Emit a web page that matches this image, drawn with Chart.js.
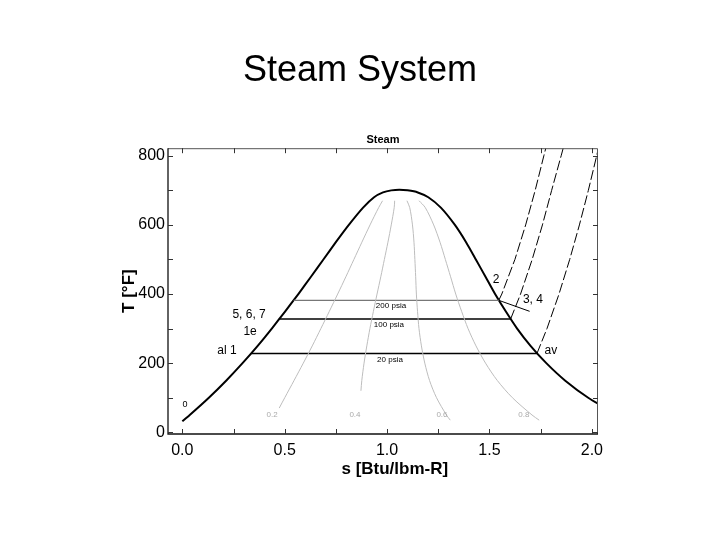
<!DOCTYPE html>
<html>
<head>
<meta charset="utf-8">
<title>Steam System</title>
<script src="https://cdn.jsdelivr.net/npm/chart.js"></script>
<style>
  html, body { margin: 0; padding: 0; background: #fff; }
  #wrap { position: relative; width: 720px; height: 540px; }
  #c { position: absolute; left: 0; top: 0; }
  #slideTitle {
    position: absolute; left: 0; top: 51px; width: 720px;
    text-align: center; color: #000;
    font: 36px/36px "Liberation Sans", Arial, sans-serif;
  }
</style>
</head>
<body>
<div id="wrap">
  <canvas id="c" width="720" height="540"></canvas>
  <div id="slideTitle">Steam System</div>
</div>
<script>
// saturation dome (liquid side up to the critical point, then vapour side down)
const domeS = [0.0000, 0.0361, 0.1295, 0.2150, 0.2940, 0.3680, 0.4369, 0.5025, 0.5665, 0.6282, 0.6889, 0.7497,
  0.8131, 0.8828, 0.9364, 0.9800, 1.0200, 1.0600, 1.1000, 1.1500, 1.2012, 1.2625, 1.3311, 1.3857, 1.4335,
  1.4806, 1.5274, 1.5793, 1.6351, 1.7006, 1.7775, 1.8687, 1.9822, 2.1256];
const domeT = [32, 50, 100, 150, 200, 250, 300, 350, 400, 450, 500, 550,
  600, 650, 680, 694, 700, 702, 700, 694, 680, 650, 600, 550, 500,
  450, 400, 350, 300, 250, 200, 150, 100, 50];

// constant pressure lines inside the dome
const p200S = [0.5438, 1.5454], p200T = [381.8, 381.8];
const p100S = [0.4744, 1.6034], p100T = [327.8, 327.8];
const p20S  = [0.3358, 1.7319], p20T  = [228, 228];

// same isobars in the superheated region
const sh200S = [1.5454, 1.5602, 1.6242, 1.6767, 1.7232, 1.7655, 1.7750];
const sh200T = [381.8, 400, 500, 600, 700, 800, 822];
const sh100S = [1.6034, 1.6518, 1.7085, 1.7586, 1.8036, 1.8500, 1.8600];
const sh100T = [327.8, 400, 500, 600, 700, 800, 822];
const sh20S  = [1.7319, 1.7808, 1.8396, 1.8918, 1.9392, 1.9829, 2.0235, 2.0320];
const sh20T  = [228, 300, 400, 500, 600, 700, 800, 822];

// short segment from state 2 toward 3, 4
const seg34S = [1.5454, 1.6960], seg34T = [381.8, 350];

// lines of constant quality
const qualityT = [670, 650, 600, 550, 500, 450, 400, 350, 300, 250, 200, 150, 100, 50, 35];
const q2S = [0.978, 0.9587, 0.9167, 0.8769, 0.8378, 0.7987, 0.7587, 0.7179, 0.6765, 0.6345, 0.5907, 0.5457, 0.5001, 0.4731];
const q2T = [670, 650, 600, 550, 500, 450, 400, 350, 300, 250, 200, 150, 100, 70];
const q4S = [1.037, 1.0347, 1.0203, 1.0041, 0.9867, 0.9692, 0.9509, 0.9332, 0.9161, 0.9010, 0.8874, 0.8765, 0.8722];
const q4T = [670, 650, 600, 550, 500, 450, 400, 350, 300, 250, 200, 150, 120];
const q6S = [1.097, 1.1106, 1.1239, 1.1313, 1.1357, 1.1396, 1.1430, 1.1486, 1.1558, 1.1676, 1.1841, 1.2072, 1.2414, 1.2898, 1.3086];
const q8S = [1.156, 1.1866, 1.2275, 1.2585, 1.2846, 1.3101, 1.3352, 1.3639, 1.3954, 1.4341, 1.4808, 1.5380, 1.6120, 1.7077, 1.7428];

// text on the plot
const stateLabels = ['0', 'al 1', '5, 6, 7', '1e', '2', '3, 4', 'av'];
const stateLabelS = [0.013, 0.218, 0.326, 0.331, 1.532, 1.712, 1.80];
const stateLabelT = [79, 235, 339, 290, 441, 383, 235];
const pressureLabels = ['200 psia', '100 psia', '20 psia'];
const pressureLabelS = [1.019, 1.009, 1.014];
const pressureLabelT = [365, 310, 209];
const qualityLabels = ['0.2', '0.4', '0.6', '0.8'];
const qualityLabelS = [0.438, 0.843, 1.268, 1.668];
const qualityLabelT = [50, 50, 50, 50];

// axis ticks
const sLabelTicks = [0, 0.5, 1.0, 1.5, 2.0];
const tLabelTicks = [0, 200, 400, 600, 800];
const sTicks = [0, 0.25, 0.5, 0.75, 1.0, 1.25, 1.5, 1.75, 2.0];
const tTicks = [0, 100, 200, 300, 400, 500, 600, 700, 800];

const FONT = '"Liberation Sans", Arial, sans-serif';

const pts = (s, t) => s.map((v, i) => ({x: v, y: t[i]}));

const line = (s, t, color, width, dash, tension) => ({
  data: pts(s, t),
  showLine: true,
  borderColor: color,
  borderWidth: width,
  borderDash: dash || [],
  tension: tension || 0,
  pointRadius: 0,
  fill: false
});

const plotText = {
  id: 'plotText',
  afterDatasetsDraw(chart) {
    const {ctx, chartArea: a, scales: {x, y}} = chart;
    ctx.save();
    ctx.textAlign = 'center';
    ctx.textBaseline = 'middle';

    ctx.fillStyle = '#000';
    for (let i = 0; i < stateLabels.length; i++) {
      ctx.font = (stateLabels[i] === '0' ? 9 : 12) + 'px ' + FONT;
      ctx.fillText(stateLabels[i], x.getPixelForValue(stateLabelS[i]), y.getPixelForValue(stateLabelT[i]));
    }
    ctx.font = '8px ' + FONT;
    for (let i = 0; i < pressureLabels.length; i++) {
      ctx.fillText(pressureLabels[i], x.getPixelForValue(pressureLabelS[i]), y.getPixelForValue(pressureLabelT[i]));
    }
    ctx.fillStyle = '#aaa';
    for (let i = 0; i < qualityLabels.length; i++) {
      ctx.fillText(qualityLabels[i], x.getPixelForValue(qualityLabelS[i]), y.getPixelForValue(qualityLabelT[i]));
    }

    // frame, ticks pointing inward on all four sides
    ctx.lineWidth = 1;
    ctx.strokeStyle = '#555';
    ctx.beginPath();
    ctx.moveTo(a.left, a.top + 0.5); ctx.lineTo(a.right - 0.5, a.top + 0.5); ctx.lineTo(a.right - 0.5, a.bottom);
    ctx.stroke();
    ctx.strokeStyle = '#111';
    ctx.lineWidth = 1.3;
    ctx.beginPath();
    ctx.moveTo(a.left, a.top); ctx.lineTo(a.left, a.bottom); ctx.lineTo(a.right, a.bottom);
    ctx.stroke();

    ctx.lineWidth = 1;
    ctx.strokeStyle = '#333';
    ctx.beginPath();
    sTicks.forEach(v => {
      const px = Math.round(x.getPixelForValue(v)) + 0.5;
      ctx.moveTo(px, a.bottom); ctx.lineTo(px, a.bottom - 5);
      ctx.moveTo(px, a.top); ctx.lineTo(px, a.top + 5);
    });
    tTicks.forEach(v => {
      const py = Math.round(y.getPixelForValue(v)) + 0.5;
      ctx.moveTo(a.left, py); ctx.lineTo(a.left + 5, py);
      ctx.moveTo(a.right, py); ctx.lineTo(a.right - 5, py);
    });
    ctx.stroke();
    ctx.restore();
  }
};

new Chart(document.getElementById('c'), {
  type: 'scatter',
  data: {
    datasets: [
      line(q2S, q2T, '#bdbdbd', 1, null, 0.3),
      line(q4S, q4T, '#bdbdbd', 1, null, 0.3),
      line(q6S, qualityT, '#bdbdbd', 1, null, 0.3),
      line(q8S, qualityT, '#bdbdbd', 1, null, 0.3),
      line(p200S, p200T, '#777', 1.3),
      line(p100S, p100T, '#000', 1.3),
      line(p20S, p20T, '#000', 1.3),
      line(sh200S, sh200T, '#000', 1, [10, 3]),
      line(sh100S, sh100T, '#000', 1, [10, 3]),
      line(sh20S, sh20T, '#000', 1, [10, 3]),
      line(seg34S, seg34T, '#000', 1),
      line(domeS, domeT, '#000', 2, null, 0.2)
    ]
  },
  options: {
    responsive: false,
    animation: false,
    events: [],
    layout: {padding: {left: 110, right: 122, top: 133, bottom: 60}},
    plugins: {
      legend: {display: false},
      tooltip: {enabled: false},
      title: {
        display: true,
        text: 'Steam',
        fullSize: false,
        color: '#000',
        font: {family: FONT, size: 11, weight: 'bold'},
        padding: {top: 0, bottom: 2}
      }
    },
    scales: {
      x: {
        type: 'linear',
        min: -0.07,
        max: 2.03,
        afterFit: s => { s.height = 46; },
        afterBuildTicks: s => { s.ticks = sLabelTicks.map(v => ({value: v})); },
        grid: {display: false, drawTicks: false},
        border: {display: false},
        ticks: {
          maxRotation: 0,
          autoSkip: false,
          padding: 7,
          color: '#000',
          font: {family: FONT, size: 16},
          callback: v => v.toFixed(1)
        },
        title: {
          display: true,
          text: '\u00a0\u00a0\u00a0\u00a0\u00a0s [Btu/lbm-R]',
          color: '#000',
          font: {family: FONT, size: 17, weight: 'bold'},
          padding: {top: 0, bottom: 0}
        }
      },
      y: {
        type: 'linear',
        min: -5,
        max: 822,
        afterFit: s => { s.width = 58; },
        afterBuildTicks: s => { s.ticks = tLabelTicks.map(v => ({value: v})); },
        grid: {display: false, drawTicks: false},
        border: {display: false},
        ticks: {
          padding: 3,
          color: '#000',
          font: {family: FONT, size: 16}
        },
        title: {
          display: true,
          text: 'T [°F]',
          color: '#000',
          font: {family: FONT, size: 17, weight: 'bold'},
          padding: {top: 9, bottom: 0}
        }
      }
    }
  },
  plugins: [plotText]
});
</script>
</body>
</html>
